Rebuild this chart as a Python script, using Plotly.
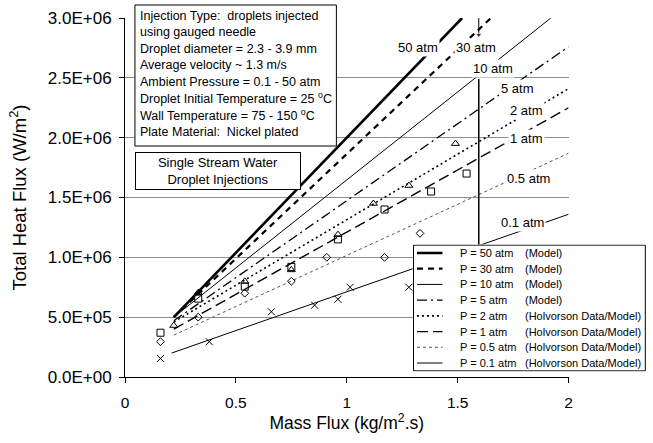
import plotly.graph_objects as go

# ---------------- data ----------------
# model lines (start / end points)
m50_x = [0.22, 1.52];  m50_y = [5.0e5, 3.0e6]
m30_x = [0.22, 1.65];  m30_y = [5.0e5, 3.0e6]
m10_x = [0.22, 1.92];  m10_y = [5.0e5, 3.0e6]
m5_x = [0.22, 2.0];    m5_y = [4.7e5, 2.76e6]
m2_x = [0.22, 2.0];    m2_y = [4.6e5, 2.41e6]
m1_x = [0.22, 2.0];    m1_y = [4.0e5, 2.25e6]
m05_x = [0.22, 2.0];   m05_y = [3.5e5, 1.87e6]
m01_x = [0.21, 2.0];   m01_y = [2.0e5, 1.36e6]

# Holvorson data points
d2_x = [0.22, 0.33, 0.54, 0.75, 0.96, 1.12, 1.28, 1.49]
d2_y = [4.3e5, 7.05e5, 8.0e5, 8.95e5, 1.19e6, 1.45e6, 1.60e6, 1.95e6]
d1_x = [0.16, 0.33, 0.54, 0.75, 0.96, 1.17, 1.38, 1.54]
d1_y = [3.7e5, 6.55e5, 7.55e5, 9.2e5, 1.15e6, 1.40e6, 1.55e6, 1.70e6]
d05_x = [0.16, 0.33, 0.54, 0.75, 0.91, 1.17, 1.33]
d05_y = [2.95e5, 5.0e5, 7.0e5, 8.0e5, 1.0e6, 1.0e6, 1.2e6]
d01_x = [0.16, 0.38, 0.66, 0.855, 0.96, 1.015, 1.28]
d01_y = [1.55e5, 2.95e5, 5.45e5, 6.0e5, 6.5e5, 7.5e5, 7.5e5]

# curve labels
curve_labels = ["50 atm", "30 atm", "10 atm", "5 atm", "2 atm", "1 atm", "0.5 atm", "0.1 atm"]
curve_label_x = [1.32, 1.584, 1.66, 1.77, 1.812, 1.809, 1.82, 1.79]
curve_label_y = [2.75e6, 2.75e6, 2.574e6, 2.41e6, 2.23e6, 1.99e6, 1.66e6, 1.29e6]

# legend texts
legend_p = ["P = 50 atm", "P = 30 atm", "P = 10 atm", "P = 5 atm",
            "P = 2 atm", "P = 1 atm", "P = 0.5 atm", "P = 0.1 atm"]
legend_src = ["(Model)", "(Model)", "(Model)", "(Model)",
              "(Holvorson Data/Model)", "(Holvorson Data/Model)",
              "(Holvorson Data/Model)", "(Holvorson Data/Model)"]

# axis ticks
x_tick_vals = [0, 0.5, 1, 1.5, 2]
x_tick_text = ["0", "0.5", "1", "1.5", "2"]
y_tick_vals = [0, 5e5, 1e6, 1.5e6, 2e6, 2.5e6, 3e6]
y_tick_text = ["0.0E+00", "5.0E+05", "1.0E+06", "1.5E+06", "2.0E+06", "2.5E+06", "3.0E+06"]

# reference vertical marker line and arrow
vline_x = 1.595
vline_y = [1.1e6, 2.49e6]
arrow_y = [3.0e6, 2.86e6]

info_lines = [
    "Injection Type:  droplets injected",
    "using gauged needle",
    "Droplet diameter = 2.3 - 3.9 mm",
    "Average velocity ~ 1.3 m/s",
    "Ambient Pressure = 0.1 - 50 atm",
    "Droplet Initial Temperature = 25 <sup>o</sup>C",
    "Wall Temperature = 75 - 150 <sup>o</sup>C",
    "Plate Material:  Nickel plated",
]

# ---------------- styles ----------------
FONT = "Liberation Sans, Arial, sans-serif"
line_styles = [
    dict(color="black", width=2.6, dash="solid"),
    dict(color="black", width=2.2, dash="6px,5px"),
    dict(color="black", width=1.0, dash="solid"),
    dict(color="black", width=1.3, dash="10px,4px,2px,4px"),
    dict(color="black", width=1.6, dash="2px,3px"),
    dict(color="black", width=1.4, dash="11px,5px"),
    dict(color="#555555", width=1.0, dash="3px,3px"),
    dict(color="black", width=1.0, dash="solid"),
]
model_x = [m50_x, m30_x, m10_x, m5_x, m2_x, m1_x, m05_x, m01_x]
model_y = [m50_y, m30_y, m10_y, m5_y, m2_y, m1_y, m05_y, m01_y]

W, H = 653, 443
L, R, T, B = 125, 3, 18, 66
pw = W - L - R
ph = H - T - B


def px_x(p):
    return (p - L) / pw


def px_y(p):
    return (H - B - p) / ph


fig = go.Figure()

for i in range(8):
    fig.add_trace(go.Scatter(x=model_x[i], y=model_y[i], mode="lines",
                             line=line_styles[i], showlegend=False,
                             xaxis="x", yaxis="y"))

marker_sets = [
    (d2_x, d2_y, "triangle-up-open", 7),
    (d1_x, d1_y, "square-open", 7),
    (d05_x, d05_y, "diamond-open", 6),
    (d01_x, d01_y, "x-thin-open", 7),
]
for xs, ys, sym, sz in marker_sets:
    fig.add_trace(go.Scatter(x=xs, y=ys, mode="markers",
                             marker=dict(symbol=sym, size=sz, color="black",
                                         line=dict(color="black", width=1)),
                             showlegend=False, xaxis="x", yaxis="y"))

# vertical marker line and small arrow pointing at the 30 atm label
fig.add_trace(go.Scatter(x=[vline_x, vline_x], y=vline_y, mode="lines",
                         line=dict(color="black", width=1.5), showlegend=False,
                         xaxis="x", yaxis="y", hoverinfo="skip"))
fig.add_trace(go.Scatter(x=[vline_x, vline_x], y=arrow_y, mode="lines+markers",
                         line=dict(color="black", width=1),
                         marker=dict(symbol=["circle", "triangle-down"], size=[0, 6],
                                     color="black"),
                         cliponaxis=False, showlegend=False,
                         xaxis="x", yaxis="y", hoverinfo="skip"))

# ---- legend drawn as a small subplot ----
n = len(legend_p)
fig.add_trace(go.Scatter(x=[0, 10, 10, 0, 0], y=[0, 0, n, n, 0], mode="lines",
                         fill="toself", fillcolor="white",
                         line=dict(color="black", width=1),
                         showlegend=False, xaxis="x2", yaxis="y2", hoverinfo="skip"))
for i in range(n):
    fig.add_trace(go.Scatter(x=[0.15, 1.25], y=[i + 0.5, i + 0.5], mode="lines",
                             line=line_styles[i], showlegend=False,
                             xaxis="x2", yaxis="y2", hoverinfo="skip"))

annotations = []
for i in range(n):
    annotations.append(dict(x=1.9, y=i + 0.5, xref="x2", yref="y2", text=legend_p[i],
                            showarrow=False, xanchor="left", yanchor="middle",
                            font=dict(family=FONT, size=11, color="black")))
    annotations.append(dict(x=4.72, y=i + 0.5, xref="x2", yref="y2", text=legend_src[i],
                            showarrow=False, xanchor="left", yanchor="middle",
                            font=dict(family=FONT, size=11, color="black")))

for t, x, y in zip(curve_labels, curve_label_x, curve_label_y):
    annotations.append(dict(x=x, y=y, xref="x", yref="y", text=t, showarrow=False,
                            bgcolor="white", borderpad=1,
                            font=dict(family=FONT, size=13, color="black")))

# info box: one annotation per line, framed by a rectangle
for i, t in enumerate(info_lines):
    annotations.append(dict(x=px_x(138.5), y=px_y(15.5 + 16.6 * i), xref="paper", yref="paper",
                            text=t, showarrow=False, xanchor="left", yanchor="middle",
                            align="left",
                            font=dict(family=FONT, size=12.5, color="black")))

annotations.append(dict(x=px_x(218.5), y=px_y(171), xref="paper", yref="paper",
                        text="Single Stream Water<br>Droplet Injections", showarrow=False,
                        xanchor="center", yanchor="middle", align="center",
                        width=160, height=32,
                        bordercolor="black", borderwidth=1, borderpad=2, bgcolor="white",
                        font=dict(family=FONT, size=13, color="black")))

shapes = [dict(type="rect", xref="paper", yref="paper",
               x0=px_x(135), x1=px_x(338), y0=px_y(146), y1=px_y(5),
               line=dict(color="black", width=1), fillcolor="white", layer="above")]

fig.update_layout(
    width=W, height=H,
    margin=dict(l=L, r=R, t=T, b=B),
    paper_bgcolor="white", plot_bgcolor="white",
    font=dict(family=FONT, color="black"),
    showlegend=False,
    xaxis=dict(domain=[0, px_x(572)], range=[0, 2], anchor="y",
               tickvals=x_tick_vals, ticktext=x_tick_text,
               ticks="outside", ticklen=5, tickcolor="black",
               showline=True, linecolor="black", linewidth=1,
               showgrid=False, zeroline=False,
               tickfont=dict(family=FONT, size=15.5),
               ticklabelstandoff=6,
               title=dict(text="Mass Flux (kg/m<sup>2</sup>.s)", standoff=2,
                          font=dict(family=FONT, size=17.5))),
    yaxis=dict(domain=[0, 1], range=[0, 3e6], anchor="x",
               tickvals=y_tick_vals, ticktext=y_tick_text,
               ticks="outside", ticklen=5, tickcolor="black",
               showline=True, linecolor="black", linewidth=1,
               showgrid=True, gridcolor="#8c8c8c", gridwidth=1, zeroline=False,
               tickfont=dict(family=FONT, size=17),
               ticklabelstandoff=4,
               title=dict(text="Total Heat Flux (W/m<sup>2</sup>)", standoff=16,
                          font=dict(family=FONT, size=18.5))),
    xaxis2=dict(domain=[px_x(415), 1.0], range=[-0.03, 10.03], anchor="y2",
                visible=False),
    yaxis2=dict(domain=[px_y(371.5), px_y(244.5)], range=[n + 0.04, -0.04], anchor="x2",
                visible=False),
    annotations=annotations,
    shapes=shapes,
)

fig.write_html("out.html")
